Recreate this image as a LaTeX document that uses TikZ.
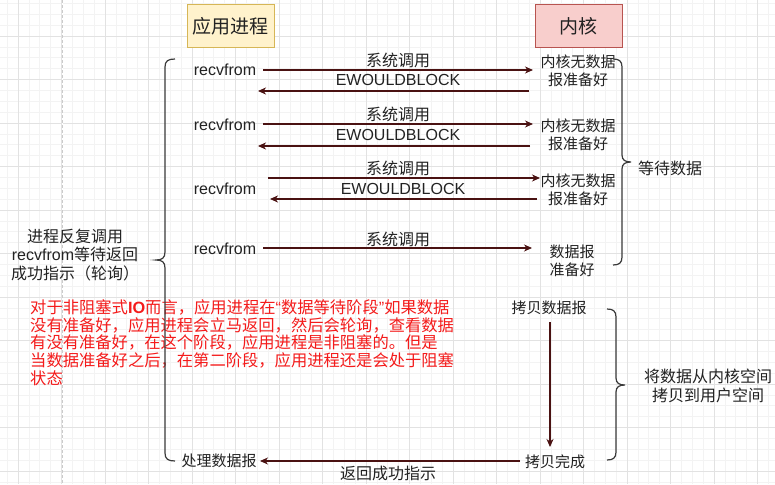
\documentclass[tikz,border=0pt]{standalone}
\usepackage{fontspec}
\setmainfont{Liberation Sans}
\newfontfamily\cjk{Noto Sans CJK SC}
\usetikzlibrary{arrows.meta}
\definecolor{arrc}{HTML}{4A1212}
\definecolor{gridminor}{HTML}{F3F3F3}
\definecolor{gridmajor}{HTML}{E2E2E2}
\definecolor{bracec}{HTML}{3A3A3A}
\definecolor{appfill}{HTML}{FFF2CC}
\definecolor{appdraw}{HTML}{D6B656}
\definecolor{kfill}{HTML}{F8CECC}
\definecolor{kdraw}{HTML}{B85450}
\definecolor{txtc}{HTML}{222222}
\definecolor{notec}{HTML}{F41B1B}
\begin{document}
\begin{tikzpicture}[x=1pt,y=-1pt,
  minorg/.style={draw=gridminor,line width=0.7pt},
  majorg/.style={draw=gridmajor,line width=0.8pt},
  arr/.style={draw=arrc,line width=1.1pt,-{Stealth[length=8pt,width=7pt,inset=2.5pt]}},
  bracel/.style={draw=bracec,line width=1.2pt},
  lat/.style={inner sep=0pt,text=txtc,font=\fontsize{16}{18.5}\selectfont,align=center},
  cjt/.style={inner sep=0pt,text=txtc,font=\cjk\fontsize{16}{18.5}\selectfont,align=center},
  kt/.style={inner sep=0pt,text=txtc,font=\cjk\fontsize{15}{17.5}\selectfont,align=center},
  redt/.style={inner sep=0pt,anchor=west,text=notec,font=\cjk\fontsize{16.3}{17.7}\selectfont},
  headbox/.style={inner sep=0pt,minimum width=87pt,minimum height=43pt,line width=1pt,text=txtc,font=\cjk\fontsize{19}{22}\selectfont}
]
\useasboundingbox (0,0) rectangle (775,484);
\fill[white] (0,0) rectangle (775,484);
% grid
\begin{scope}
\clip (0,0) rectangle (775,484);
\foreach \i in {0,...,75}{
  \pgfmathsetmacro\xx{-25.5+10.875*\i}
  \draw[minorg] (\xx,0) -- (\xx,484);
}
\foreach \i in {0,...,46}{
  \pgfmathsetmacro\yy{-7.5+10.875*\i}
  \draw[minorg] (0,\yy) -- (775,\yy);
}
\foreach \i in {0,...,19}{
  \pgfmathsetmacro\xx{-25.5+43.5*\i}
  \draw[majorg] (\xx,0) -- (\xx,484);
}
\foreach \i in {0,...,12}{
  \pgfmathsetmacro\yy{-7.5+43.5*\i}
  \draw[majorg] (0,\yy) -- (775,\yy);
}
\draw[draw=white,line width=0.9pt] (62,0) -- (62,484);
\draw[draw=gridmajor!90!black,line width=0.9pt,dash pattern=on 3pt off 2pt] (62,0) -- (62,484);
\end{scope}

% header boxes
\node[headbox,fill=appfill,draw=appdraw] (app) at (230.5,26.5) {应用进程};
\node[headbox,fill=kfill,draw=kdraw] (kern) at (578.5,26.5) {内核};

% row 1
\node[lat] (r1) at (225,70) {recvfrom};
\node[cjt] (s1) at (398,60) {系统调用};
\node[lat] (e1) at (398,80) {EWOULDBLOCK};
\node[kt] (k1) at (578,71) {内核无数据\\报准备好};
\coordinate (f1a) at (263,70); \coordinate (f1b) at (533,70);
\coordinate (b1a) at (529,91); \coordinate (b1b) at (258,91);
\draw[arr] (f1a) -- (f1b);
\draw[arr] (b1a) -- (b1b);

% row 2
\node[lat] (r2) at (225,125) {recvfrom};
\node[cjt] (s2) at (398,114) {系统调用};
\node[lat] (e2) at (398,135) {EWOULDBLOCK};
\node[kt] (k2) at (578,135) {内核无数据\\报准备好};
\coordinate (f2a) at (263,124); \coordinate (f2b) at (533,124);
\coordinate (b2a) at (530,146); \coordinate (b2b) at (258,146);
\draw[arr] (f2a) -- (f2b);
\draw[arr] (b2a) -- (b2b);

% row 3
\node[lat] (r3) at (225,189) {recvfrom};
\node[cjt] (s3) at (398,168) {系统调用};
\node[lat] (e3) at (403,189) {EWOULDBLOCK};
\node[kt] (k3) at (578,190) {内核无数据\\报准备好};
\coordinate (f3a) at (268,178); \coordinate (f3b) at (540,178);
\coordinate (b3a) at (537,199); \coordinate (b3b) at (270,199);
\draw[arr] (f3a) -- (f3b);
\draw[arr] (b3a) -- (b3b);

% row 4
\node[lat] (r4) at (225,249) {recvfrom};
\node[cjt] (s4) at (398,239) {系统调用};
\node[kt] (k4) at (572,261) {数据报\\准备好};
\coordinate (f4a) at (263,248); \coordinate (f4b) at (532,248);
\draw[arr] (f4a) -- (f4b);

% left label
\node[lat] (lp) at (75,255) {{\cjk 进程反复调用}\\recvfrom{\cjk 等待返回}\\{\cjk 成功指示（轮询）}};

% red note
\node[redt] (n1) at (30,307) {对于非阻塞式{\normalfont\bfseries IO}而言，应用进程在{\normalfont “}数据等待阶段{\normalfont ”}如果数据};
\node[redt] (n2) at (30,325) {没有准备好，应用进程会立马返回，然后会轮询，查看数据};
\node[redt] (n3) at (30,342) {有没有准备好，在这个阶段，应用进程是非阻塞的。但是};
\node[redt] (n4) at (30,360) {当数据准备好之后，在第二阶段，应用进程还是会处于阻塞};
\node[redt] (n5) at (30,378) {状态};

% copy phase
\node[kt] (cp1) at (549,308) {拷贝数据报};
\node[kt] (cp2) at (555,462) {拷贝完成};
\node[kt] (proc) at (219,461) {处理数据报};
\node[cjt] (ret) at (388,473) {返回成功指示};
\coordinate (d1) at (550,322); \coordinate (d2) at (550,447);
\draw[arr] (d1) -- (d2);
\coordinate (g1) at (520,461); \coordinate (g2) at (260,461);
\draw[arr] (g1) -- (g2);

% right labels
\node[cjt] (wait) at (670,168) {等待数据};
\node[cjt] (copy) at (708,386) {将数据从内核空间\\拷贝到用户空间};

% braces
\draw[bracel] (175,59) .. controls (168,59) and (165,61) .. (165,67) -- (165,252)
  .. controls (165,258) and (162,260) .. (156,260)
  .. controls (162,260) and (165,262) .. (165,268) -- (165,453)
  .. controls (165,459) and (168,461) .. (175,461);
\draw[bracel] (613,59) .. controls (619,59) and (622,61) .. (622,67) -- (622,155)
  .. controls (622,160) and (625,162) .. (631,162)
  .. controls (625,162) and (622,164) .. (622,169) -- (622,257)
  .. controls (622,263) and (619,265) .. (613,265);
\draw[bracel] (607,309) .. controls (613,309) and (616,311) .. (616,317) -- (616,378)
  .. controls (616,383) and (619,385) .. (625,385)
  .. controls (619,385) and (616,387) .. (616,392) -- (616,452)
  .. controls (616,458) and (613,460) .. (607,460);
\end{tikzpicture}
\end{document}
